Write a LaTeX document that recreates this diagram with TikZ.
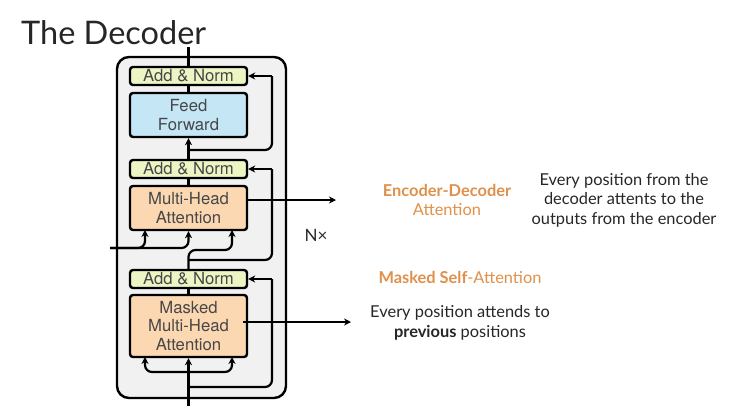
\documentclass[tikz,border=0pt]{standalone}
\usepackage{fontspec}
\setmainfont{Lato}
\newfontfamily\boxfont{TeX Gyre Heros}
\usetikzlibrary{arrows.meta,calc}
\definecolor{orng}{HTML}{E0904A}
\definecolor{addc}{HTML}{EEF5C4}
\definecolor{ffc}{HTML}{C4E6F5}
\definecolor{attc}{HTML}{FCD8B2}
\definecolor{outerc}{HTML}{F1F1F1}
\definecolor{txt}{HTML}{262626}
\begin{document}
\begin{tikzpicture}[x=1pt,y=-1pt,
  blk/.style={draw=black, line width=2.4pt, rounded corners=3pt, minimum width=117pt, inner sep=0pt, align=center, font=\boxfont\fontsize{16.7}{19}\selectfont, text=black!72},
  anbox/.style={blk, fill=addc, minimum height=18pt},
  ln/.style={line width=2.2pt, rounded corners=7pt},
  arr/.style={ln, -{Stealth[length=7pt,width=7pt]}},
  rt/.style={font=\fontsize{16.4}{19.5}\selectfont, text=txt, align=center}
]
\useasboundingbox (0,0) rectangle (729,416);
% title
\node[anchor=base west, inner sep=0pt, font=\fontsize{32.5}{32.5}\selectfont, text=txt] (title) at (21,44) {The Decoder};
% outer box
\node[draw=black, line width=2.4pt, fill=outerc, rounded corners=12pt, minimum width=169pt, minimum height=341pt, inner sep=0pt] (outer) at (201.5,227.5) {};
% blocks
\node[anbox] (an1) at (188.5,76) {Add \& Norm};
\node[blk, fill=ffc, minimum height=44pt] (ff) at (188.5,115) {Feed\\Forward};
\node[anbox] (an2) at (188.5,169) {Add \& Norm};
\node[blk, fill=attc, minimum height=44pt] (mha) at (188.5,208) {Multi-Head\\Attention};
\node[anbox] (an3) at (188.5,279) {Add \& Norm};
\node[blk, fill=attc, minimum height=62pt, font=\boxfont\fontsize{16.7}{18.5}\selectfont] (mmha) at (188.5,326) {Masked\\Multi-Head\\Attention};
% coordinates
\coordinate (in) at (188.5,406);
\coordinate (top) at (188.5,47);
\coordinate (b1) at (188.5,372);
\coordinate (mk) at (145,357);
\coordinate (mv) at (232,357);
\coordinate (r3) at (188.5,387);
\coordinate (r3t) at (272,279);
\coordinate (q2) at (232,230);
\coordinate (r2) at (188.5,260);
\coordinate (r2t) at (272,169);
\coordinate (enc) at (110,248);
\coordinate (k2) at (145,230);
\coordinate (r1) at (188.5,150);
\coordinate (r1t) at (272,76);
\coordinate (o1s) at (247,200);
\coordinate (o1e) at (336,200);
\coordinate (o2s) at (243,322);
\coordinate (o2e) at (351,322);
% connectors
\draw[arr] (in) -- (mmha.south);
\draw[arr] (b1) -| (mk);
\draw[arr] (b1) -| (mv);
\draw[ln] (r3) -| (r3t);
\draw[arr] (r3t) -- (an3.east);
\draw[ln] (mmha.north) -- (an3.south);
\draw[arr] (an3.north) |- (232,250) -- (q2);
\draw[ln] (r2) -| (r2t);
\draw[arr] (r2t) -- (an2.east);
\draw[arr] (enc) -| (k2);
\draw[arr] (enc) -| (mha.south);
\draw[ln] (mha.north) -- (an2.south);
\draw[arr] (an2.north) -- (ff.south);
\draw[ln] (r1) -| (r1t);
\draw[arr] (r1t) -- (an1.east);
\draw[ln] (ff.north) -- (an1.south);
\draw[ln] (an1.north) -- (top);
\draw[arr] (o1s) -- (o1e);
\draw[arr] (o2s) -- (o2e);
% labels
\node[rt, font=\fontsize{17}{17}\selectfont] (nx) at (316,235) {N×};
\node[rt, text=orng] (ed) at (447,200) {\textbf{Encoder-Decoder}\\Attention};
\node[rt] (edt) at (624,200) {Every position from the\\decoder attents to the\\outputs from the encoder};
\node[rt, text=orng] (ms) at (460,277) {\textbf{Masked Self}-Attention};
\node[rt] (mst) at (460,323) {Every position attends to\\\textbf{previous} positions};
\end{tikzpicture}
\end{document}
